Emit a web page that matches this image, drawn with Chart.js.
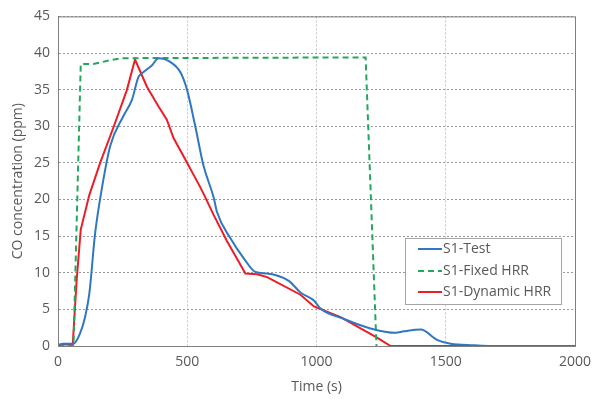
<!DOCTYPE html>
<html>
<head>
<meta charset="utf-8">
<script src="https://cdn.jsdelivr.net/npm/chart.js@4/dist/chart.umd.min.js"></script>
<style>
  html, body { margin: 0; padding: 0; background: #fff; }
  #wrap { width: 600px; height: 405px; }
</style>
</head>
<body>
<div id="wrap"><canvas id="coChart" width="600" height="405"></canvas></div>
<script>
// Data
const testTime = [0, 20, 59, 85, 105, 121, 143, 163, 202, 253, 286, 311, 331, 363, 389, 434, 473, 499, 531, 563, 602, 615, 667, 718, 764, 809, 893, 938, 990, 1016, 1106, 1209, 1306, 1338, 1403, 1468, 1519, 1610, 1674, 2000];
const testCO = [0, 0.3, 0.3, 1.7, 4, 7.1, 15.2, 20.1, 27.3, 31.4, 33.6, 36.7, 37.4, 38.3, 39.3, 38.8, 37.4, 35.0, 30.0, 24.6, 20.3, 18.3, 14.7, 12.0, 10.1, 9.9, 8.9, 7.3, 6.2, 5.1, 3.7, 2.4, 1.8, 2.0, 2.25, 0.8, 0.3, 0.1, 0, 0];

const fixedTime = [0, 60, 88, 137, 200, 250, 298, 700, 1190, 1232];
const fixedCO = [0, 0, 38.5, 38.5, 39.0, 39.3, 39.3, 39.35, 39.4, 0];

const dynTime = [0, 57, 72, 88, 121, 163, 214, 266, 298, 344, 389, 421, 447, 492, 544, 563, 602, 654, 725, 770, 809, 938, 990, 1093, 1229, 1287, 1640];
const dynCO = [0.2, 0.2, 8.9, 15.9, 20.6, 25.0, 29.8, 34.9, 39.1, 35.4, 32.7, 30.9, 28.4, 25.5, 22.1, 20.8, 17.9, 14.3, 9.9, 9.8, 9.4, 7.0, 5.4, 3.95, 1.25, 0, 0];

const seriesNames = ['S1-Test', 'S1-Fixed HRR', 'S1-Dynamic HRR'];
const xTicks = [0, 500, 1000, 1500, 2000];
const yTicks = [0, 5, 10, 15, 20, 25, 30, 35, 40, 45];

const toPoints = (ts, vs) => ts.map((t, i) => ({ x: t, y: vs[i] }));

const FONT = "'Open Sans', 'Noto Sans', sans-serif";
const TEXT = '#595959';

// frame + legend box drawn on top of the plot
const framePlugin = {
    id: 'frame',
    afterDraw(chart) {
        const { ctx, chartArea: a } = chart;
        ctx.save();
        ctx.strokeStyle = '#7f7f7f';
        ctx.lineWidth = 1;
        ctx.strokeRect(a.left + 0.5, a.top + 0.5, a.right - a.left, a.bottom - a.top);

        // legend
        const bx = 405.5, by = 238.5, bw = 156, bh = 66;
        ctx.fillStyle = '#fff';
        ctx.fillRect(bx, by, bw, bh);
        ctx.strokeStyle = '#a6a6a6';
        ctx.strokeRect(bx, by, bw, bh);
        const rows = [249, 271, 292];
        chart.data.datasets.forEach((ds, i) => {
            ctx.beginPath();
            ctx.strokeStyle = ds.borderColor;
            ctx.lineWidth = 2;
            ctx.setLineDash(ds.borderDash || []);
            ctx.moveTo(418, rows[i]);
            ctx.lineTo(442, rows[i]);
            ctx.stroke();
            ctx.setLineDash([]);
            ctx.fillStyle = TEXT;
            ctx.font = '14px ' + FONT;
            ctx.textBaseline = 'middle';
            ctx.fillText(ds.label, 443, rows[i] + 0.5);
        });
        ctx.restore();
    }
};

new Chart(document.getElementById('coChart'), {
    type: 'line',
    data: {
        datasets: [{
            label: seriesNames[0],
            data: toPoints(testTime, testCO),
            borderColor: '#2e78c2',
            borderWidth: 2,
            pointRadius: 0,
            cubicInterpolationMode: 'monotone'
        }, {
            label: seriesNames[1],
            data: toPoints(fixedTime, fixedCO),
            borderColor: '#22a85a',
            borderWidth: 2,
            borderDash: [6, 4],
            pointRadius: 0,
            tension: 0
        }, {
            label: seriesNames[2],
            data: toPoints(dynTime, dynCO),
            borderColor: '#ee1c25',
            borderWidth: 2,
            pointRadius: 0,
            tension: 0
        }]
    },
    options: {
        responsive: false,
        animation: false,
        layout: { padding: { left: 6, right: 25, top: 12, bottom: 6 } },
        plugins: {
            legend: { display: false },
            tooltip: { enabled: false }
        },
        scales: {
            x: {
                type: 'linear',
                min: 0,
                max: 2000,
                afterBuildTicks: s => { s.ticks = xTicks.map(v => ({ value: v })); },
                afterFit: s => { s.height = 53; },
                grid: { color: '#c4c4c4', drawTicks: false },
                border: { color: '#595959', width: 1, dash: [2, 2] },
                ticks: { color: TEXT, font: { family: FONT, size: 14 }, padding: 8, maxRotation: 0, callback: v => String(v) },
                title: { display: true, text: 'Time (s)', color: TEXT, font: { family: FONT, size: 14 }, padding: { top: 2 } }
            },
            y: {
                min: 0,
                max: 45,
                afterBuildTicks: s => { s.ticks = yTicks.map(v => ({ value: v })); },
                afterFit: s => { s.width = 52; },
                grid: { color: '#9a9a9a', drawTicks: false },
                border: { color: '#595959', width: 1, dash: [2, 2] },
                ticks: { color: TEXT, font: { family: FONT, size: 14 }, padding: 8, callback: v => String(v) },
                title: { display: true, text: 'CO concentration (ppm)', color: TEXT, font: { family: FONT, size: 14 }, padding: { bottom: 2 } }
            }
        }
    },
    plugins: [framePlugin]
});
</script>
</body>
</html>
